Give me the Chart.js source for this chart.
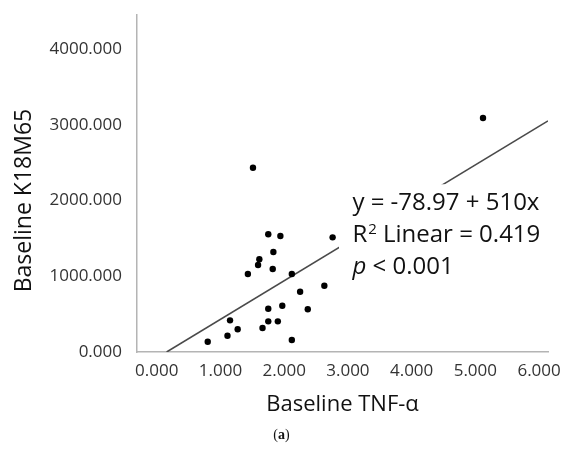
<!DOCTYPE html>
<html>
<head>
<meta charset="utf-8">
<script src="https://cdn.jsdelivr.net/npm/chart.js@4/dist/chart.umd.min.js"></script>
<style>
  html, body { margin: 0; padding: 0; background: #fff; }
  #wrap { width: 563px; height: 450px; }
</style>
</head>
<body>
<div id="wrap"><canvas id="c" width="563" height="450"></canvas></div>
<script>
// Baseline TNF-alpha vs baseline K18M65, one point per subject
const tnfAlpha = [1.51, 1.75, 1.94, 2.76, 1.83, 1.61, 1.59, 1.82, 1.43, 2.12, 2.63, 2.25,
                  1.97, 1.75, 2.37, 1.15, 1.75, 1.90, 1.27, 1.66, 1.11, 0.80, 2.12, 5.12];
const k18m65   = [2433, 1554, 1531, 1514, 1320, 1224, 1149, 1096, 1030, 1030, 875, 796,
                  611, 572, 564, 418, 405, 405, 300, 317, 215, 136, 158, 3089];

// Linear fit reported with the chart
const fitIntercept = -78.97;
const fitSlope = 510;
const rSquared = 0.419;
const pText = "< 0.001";

// Axis ticks and ranges
const xTicks = [0, 1, 2, 3, 4, 5, 6];
const yTicks = [0, 1000, 2000, 3000, 4000];
const xRange = [-0.31, 6.14];
const yRange = [0, 4450];

const xTitle = "Baseline TNF-\u03B1";
const yTitle = "Baseline K18M65";
const panelTag = "a";

const points = tnfAlpha.map((v, i) => ({ x: v, y: k18m65[i] }));

// Fit line runs from where it meets the x axis (y = 0) to the right edge
const fitStart = Math.max(xRange[0], (yRange[0] - fitIntercept) / fitSlope);
const fitLine = [fitStart, xRange[1]].map(v => ({ x: v, y: fitIntercept + fitSlope * v }));

const textPlugin = {
  id: 'textLayer',
  afterDatasetsDraw(chart) {
    const { ctx, scales: { x, y }, chartArea } = chart;
    ctx.save();

    // Opaque label box for the fit statistics (sits over the fit line)
    const boxL = x.getPixelForValue(2.86);
    const boxT = y.getPixelForValue(2215);
    const boxB = y.getPixelForValue(820);
    ctx.fillStyle = '#fff';
    ctx.fillRect(boxL, boxT, chartArea.right + 4 - boxL, boxB - boxT);

    ctx.fillStyle = '#111';
    ctx.textBaseline = 'middle';

    // Fit statistics
    const left = x.getPixelForValue(3.07);
    let top = y.getPixelForValue(1967);
    const gap = 32;
    ctx.textAlign = 'left';
    ctx.font = '24px "Open Sans"';
    ctx.fillText(`y = ${fitIntercept.toFixed(2)} + ${fitSlope}x`, left, top);

    top += gap;
    ctx.fillText('R', left, top);
    let cx = left + ctx.measureText('R').width + 1;
    ctx.font = '15px "Open Sans"';
    ctx.fillText('2', cx, top - 5);
    cx += ctx.measureText('2').width;
    ctx.font = '24px "Open Sans"';
    ctx.fillText(` Linear = ${rSquared.toFixed(3)}`, cx, top);

    top += gap;
    ctx.font = 'italic 24px "Open Sans"';
    ctx.fillText('p', left, top);
    cx = left + ctx.measureText('p').width;
    ctx.font = '24px "Open Sans"';
    ctx.fillText(' ' + pText, cx, top);
    ctx.restore();
  },
  afterDraw(chart) {
    const { ctx, scales: { y } } = chart;
    ctx.save();
    ctx.fillStyle = '#111';
    ctx.textBaseline = 'middle';

    // Y axis title, rotated
    ctx.save();
    ctx.translate(24, y.getPixelForValue(2000));
    ctx.rotate(-Math.PI / 2);
    ctx.textAlign = 'center';
    ctx.font = '23px "Open Sans"';
    ctx.fillText(yTitle, 0, 0);
    ctx.restore();

    // Panel tag
    ctx.textAlign = 'left';
    const tagY = chart.height - 15;
    ctx.font = '14px "Liberation Serif"';
    const wOpen = ctx.measureText('(').width;
    ctx.font = 'bold 14px "Liberation Serif"';
    const wTag = ctx.measureText(panelTag).width;
    const startX = chart.width / 2 - (wOpen * 2 + wTag) / 2;
    ctx.font = '14px "Liberation Serif"';
    ctx.fillText('(', startX, tagY);
    ctx.font = 'bold 14px "Liberation Serif"';
    ctx.fillText(panelTag, startX + wOpen, tagY);
    ctx.font = '14px "Liberation Serif"';
    ctx.fillText(')', startX + wOpen + wTag, tagY);
    ctx.restore();
  }
};

function draw() {
  new Chart(document.getElementById('c'), {
    type: 'scatter',
    data: {
      datasets: [
        {
          data: points,
          backgroundColor: '#000',
          borderWidth: 0,
          pointRadius: 3.2,
          order: 1
        },
        {
          type: 'line',
          data: fitLine,
          borderColor: '#4a4a4a',
          borderWidth: 1.6,
          pointRadius: 0,
          fill: false,
          order: 2
        }
      ]
    },
    options: {
      responsive: false,
      animation: false,
      devicePixelRatio: 1,
      layout: { padding: { left: 0, top: 15, right: 15, bottom: 0 } },
      plugins: { legend: { display: false }, tooltip: { enabled: false } },
      scales: {
        x: {
          type: 'linear',
          min: xRange[0],
          max: xRange[1],
          afterBuildTicks: s => { s.ticks = xTicks.map(v => ({ value: v })); },
          afterFit: s => { s.height = 98; s.paddingLeft = 0; s.paddingRight = 0; },
          grid: { display: false, drawTicks: false },
          border: { display: true, color: '#b4b4b4', width: 1.5 },
          ticks: {
            padding: 9,
            color: '#333',
            font: { family: '"Open Sans"', size: 17 },
            callback: v => Number(v).toFixed(3),
            maxRotation: 0
          },
          title: {
            display: true,
            text: xTitle,
            color: '#111',
            font: { family: '"Open Sans"', size: 22 },
            padding: { top: 0, bottom: 32 }
          }
        },
        y: {
          type: 'linear',
          min: yRange[0],
          max: yRange[1],
          afterBuildTicks: s => { s.ticks = yTicks.map(v => ({ value: v })); },
          afterFit: s => { s.width = 137; s.paddingTop = 0; s.paddingBottom = 0; },
          grid: { display: false, drawTicks: false },
          border: { display: true, color: '#b4b4b4', width: 1.5 },
          ticks: {
            padding: 15,
            color: '#333',
            font: { family: '"Open Sans"', size: 17 },
            callback: v => Number(v).toFixed(3)
          },
          title: { display: false }
        }
      }
    },
    plugins: [textPlugin]
  });
}

if (document.fonts && document.fonts.load) {
  Promise.all([
    document.fonts.load('16px "Open Sans"'),
    document.fonts.load('italic 24px "Open Sans"'),
    document.fonts.load('14px "Liberation Serif"')
  ]).then(draw, draw);
} else {
  draw();
}
</script>
</body>
</html>
